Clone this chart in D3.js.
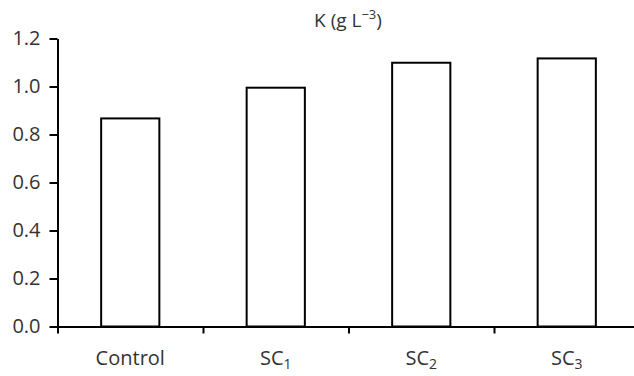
<!DOCTYPE html>
<html>
<head>
<meta charset="utf-8">
<script src="https://cdn.jsdelivr.net/npm/d3@7"></script>
<style>
  body { margin: 0; background: #fff; }
  text { font-family: "Open Sans", "Noto Sans", sans-serif; fill: #333; }
</style>
</head>
<body>
<div class="chart"></div>
<script>
// data
var categories = ["Control", "SC1", "SC2", "SC3"];
var labelBase = ["Control", "SC", "SC", "SC"];
var labelSub = ["", "1", "2", "3"];
var values = [0.867, 0.995, 1.099, 1.117];
var yTicks = [0, 0.2, 0.4, 0.6, 0.8, 1.0, 1.2];

var svgWidth = 634, svgHeight = 376;

var svg = d3.select(".chart")
  .append("svg")
  .attr("width", svgWidth)
  .attr("height", svgHeight);

// the plot runs past the right edge of the picture
var plotLeft = 57.5, plotRight = 639.5, plotTop = 38.5, plotBottom = 326.5;

var xScale = d3.scaleBand()
  .domain(categories)
  .range([plotLeft, plotRight])
  .paddingInner(0.6)
  .paddingOuter(0.3);

// boundaries between categories, for the x ticks
var xEdge = d3.scaleLinear()
  .domain([0, categories.length])
  .range([plotLeft, plotRight]);

var yScale = d3.scaleLinear()
  .domain([0, 1.2])
  .range([plotBottom, plotTop]);

// bars
svg.selectAll("rect.bar")
  .data(values)
  .enter()
  .append("rect")
  .attr("class", "bar")
  .attr("x", (d, i) => xScale(categories[i]))
  .attr("y", d => yScale(d))
  .attr("width", xScale.bandwidth())
  .attr("height", d => yScale(0) - yScale(d))
  .attr("fill", "white")
  .attr("stroke", "black")
  .attr("stroke-width", 2);

// y axis
var yAxis = d3.axisLeft(yScale)
  .tickValues(yTicks)
  .tickFormat(d3.format(".1f"))
  .tickSizeInner(8)
  .tickSizeOuter(0)
  .tickPadding(9);

var yG = svg.append("g")
  .attr("transform", `translate(${plotLeft}, 0)`)
  .call(yAxis);
yG.select(".domain").attr("stroke", "black").attr("stroke-width", 2);
yG.selectAll(".tick line").attr("stroke", "black").attr("stroke-width", 2);
yG.selectAll(".tick text")
  .style("font-size", "20px")
  .style("font-family", "'Open Sans', 'Noto Sans', sans-serif")
  .attr("fill", "#333");

// x axis: ticks at category boundaries, no labels
var xAxis = d3.axisBottom(xEdge)
  .tickValues(d3.range(categories.length + 1))
  .tickFormat("")
  .tickSizeInner(7)
  .tickSizeOuter(0);

var xG = svg.append("g")
  .attr("transform", `translate(0, ${plotBottom})`)
  .call(xAxis);
xG.select(".domain").attr("stroke", "black").attr("stroke-width", 2);
xG.selectAll(".tick line").attr("stroke", "black").attr("stroke-width", 2);

// category labels with subscripts
var labels = svg.selectAll("text.xlabel")
  .data(categories)
  .enter()
  .append("text")
  .attr("class", "xlabel")
  .attr("x", d => xScale(d) + xScale.bandwidth() / 2)
  .attr("y", 365)
  .attr("text-anchor", "middle")
  .style("font-size", "20px");

labels.append("tspan").text((d, i) => labelBase[i]);
labels.append("tspan")
  .attr("dy", 4)
  .style("font-size", "14px")
  .text((d, i) => labelSub[i]);

// title
var title = svg.append("text")
  .attr("x", 348)
  .attr("y", 27)
  .attr("text-anchor", "middle")
  .style("font-size", "19px");
title.append("tspan").text("K (g L");
title.append("tspan")
  .attr("dy", -8)
  .style("font-size", "13px")
  .text("\u22123");
title.append("tspan")
  .attr("dy", 8)
  .text(")");
</script>
</body>
</html>
